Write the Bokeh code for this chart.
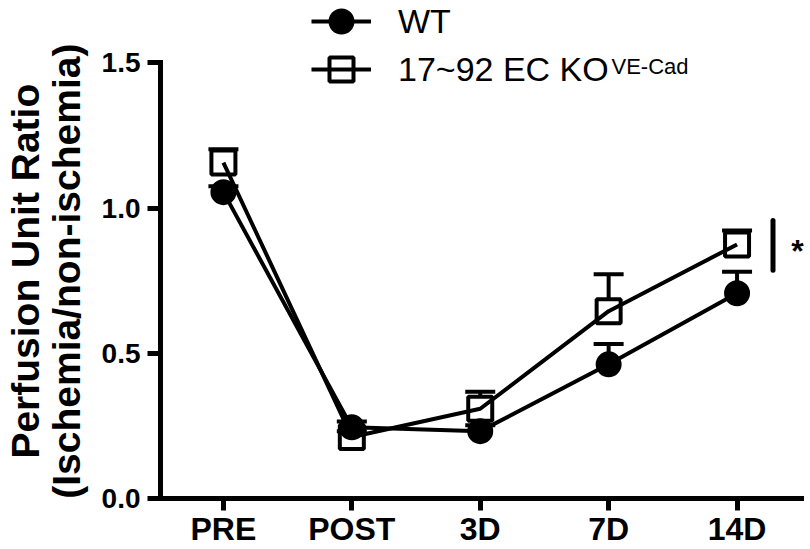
from bokeh.plotting import figure
from bokeh.models import (ColumnDataSource, Whisker, TeeHead, Legend, LegendItem, Label,
                          FixedTicker, Range1d, PrintfTickFormatter)
from bokeh.embed import file_html
from bokeh.resources import INLINE

# ---- data ----
timepoints = ["PRE", "POST", "3D", "7D", "14D"]
x_pos = [0, 1, 2, 3, 4]
wt_mean = [1.055, 0.245, 0.232, 0.462, 0.707]
wt_err = [0.02, 0.02, 0.02, 0.070, 0.074]
ko_mean = [1.157, 0.212, 0.309, 0.645, 0.875]
ko_err = [0.046, 0.02, 0.059, 0.127, 0.048]
y_ticks = [0.0, 0.5, 1.0, 1.5]
sig_x = [4.28]
sig_y0 = [0.786]
sig_y1 = [0.957]
sig_text = "*"
series_names = ["WT", "17~92 EC KO"]
ko_superscript = "VE-Cad"
y_title = ["Perfusion Unit Ratio", "(Ischemia/non-ischemia)"]

FONT = "Liberation Sans"
PAD = "\u00a0" * 4   # keeps the rotated title centred on the 0-1.5 part of the axis

W, H = 810, 549
p = figure(width=W, height=H, output_backend="svg", toolbar_location=None,
           x_range=Range1d(-0.49, 4.572), y_range=Range1d(0, 1.715),
           min_border_left=152, min_border_right=0, min_border_top=0,
           min_border_bottom=47)
p.outline_line_color = None
p.xgrid.visible = False
p.ygrid.visible = False
p.background_fill_color = "white"
p.border_fill_color = "white"

for ax in (p.xaxis[0], p.yaxis[0]):
    ax.axis_line_width = 5
    ax.axis_line_color = "black"
    ax.axis_line_cap = "square"
    ax.major_tick_line_width = 5
    ax.major_tick_line_color = "black"
    ax.major_tick_in = 0
    ax.minor_tick_line_color = None
    ax.major_label_text_font = FONT
    ax.major_label_text_font_style = "bold"
    ax.major_label_text_color = "black"

yax = p.yaxis[0]
yax.ticker = FixedTicker(ticks=y_ticks)
yax.formatter = PrintfTickFormatter(format="%.1f")
yax.bounds = (0, 1.5)
yax.major_tick_out = 13
yax.major_label_text_font_size = "28px"
yax.major_label_standoff = 7
yax.axis_label = y_title[0] + PAD + "\n" + y_title[1] + PAD
yax.axis_label_text_font = FONT
yax.axis_label_text_font_style = "bold"
yax.axis_label_text_font_size = "39px"
yax.axis_label_text_line_height = 0.95
yax.axis_label_text_color = "black"
yax.axis_label_standoff = 11

xax = p.xaxis[0]
xax.ticker = FixedTicker(ticks=x_pos)
xax.major_label_overrides = {i: t for i, t in zip(x_pos, timepoints)}
xax.bounds = (-0.49, 4.5)
xax.major_tick_out = 12
xax.major_label_standoff = 0
xax.major_label_text_font_size = "32px"

src_wt = ColumnDataSource(dict(x=x_pos, y=wt_mean,
                               upper=[m + e for m, e in zip(wt_mean, wt_err)]))
src_ko = ColumnDataSource(dict(x=x_pos, y=ko_mean,
                               upper=[m + e for m, e in zip(ko_mean, ko_err)]))

for src in (src_ko, src_wt):
    w = Whisker(source=src, base="x", lower="y", upper="upper",
                line_width=4, line_color="black", lower_head=None,
                upper_head=TeeHead(size=30, line_width=4, line_color="black"))
    p.add_layout(w)

ko_sc = p.scatter("x", "y", source=src_ko, marker="square", size=24,
                  fill_color="white", line_color="black", line_width=4)
wt_sc = p.scatter("x", "y", source=src_wt, marker="circle", size=24,
                  fill_color="black", line_color="black", line_width=2)
ko_ln = p.line("x", "y", source=src_ko, line_width=4, line_color="black")
wt_ln = p.line("x", "y", source=src_wt, line_width=4, line_color="black")

p.segment(x0=sig_x, y0=sig_y0, x1=sig_x, y1=sig_y1, line_width=5,
          line_color="black", line_cap="round")

legend_style = dict(glyph_width=60, glyph_height=60, padding=0, margin=0,
                    label_standoff=27, label_text_font=FONT,
                    label_text_font_size="34px", label_text_color="black",
                    border_line_color=None, background_fill_alpha=0)
leg_wt = Legend(items=[LegendItem(label=series_names[0], renderers=[wt_sc, wt_ln])],
                location=(151, 447), **legend_style)
leg_ko = Legend(items=[LegendItem(label=series_names[1], renderers=[ko_sc, ko_ln])],
                location=(151, 399), **legend_style)
p.add_layout(leg_wt)
p.add_layout(leg_ko)

p.add_layout(Label(x=451, y=432, x_units="screen", y_units="screen",
                   text=ko_superscript, text_font=FONT, text_font_size="22px",
                   text_baseline="alphabetic", text_align="left", text_color="black"))

p.add_layout(Label(x=637, y=248, x_units="screen", y_units="screen",
                   text=sig_text, text_font=FONT, text_font_style="bold",
                   text_font_size="32px", text_baseline="alphabetic",
                   text_align="center", text_color="black"))

open("out.html", "w").write(file_html(p, INLINE))
